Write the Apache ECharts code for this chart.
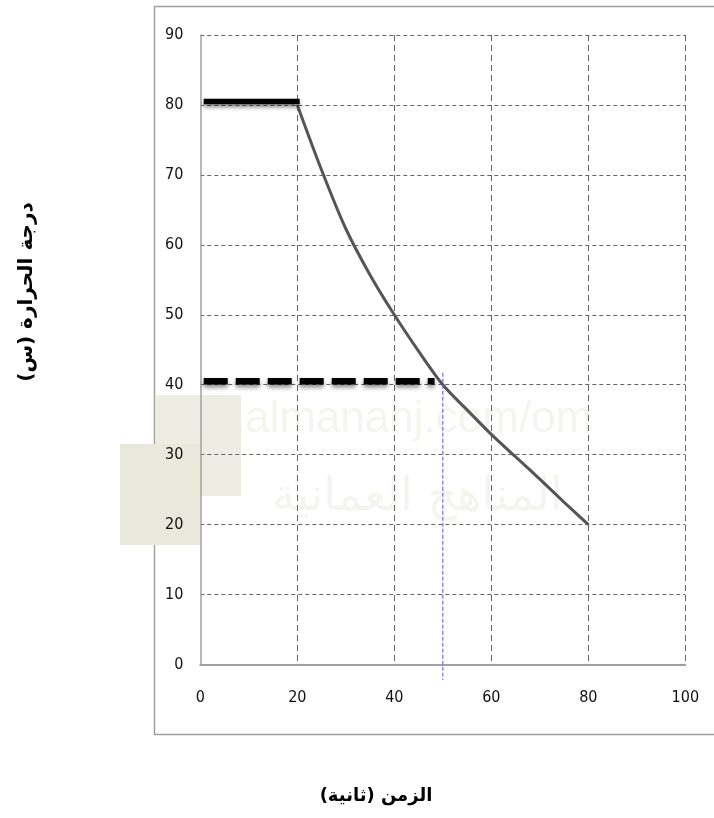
<!DOCTYPE html>
<html><head><meta charset="utf-8">
<script src="https://cdn.jsdelivr.net/npm/echarts@6/dist/echarts.min.js"></script>
<style>html,body{margin:0;padding:0;background:#fff}#c{width:714px;height:818px}</style>
</head><body><div id="c"></div>
<script>
const xTicks = [0, 20, 40, 60, 80, 100];
const yTicks = [0, 10, 20, 30, 40, 50, 60, 70, 80, 90];
const coolingX = [20, 25, 30, 35, 40, 45, 50, 55, 60, 65, 70, 75, 80];
const coolingY = [80, 70.7, 62.3, 55.7, 50, 44.8, 40, 36.4, 32.9, 29.7, 26.5, 23.2, 20];
const plateauHigh = [[0.7, 80.5], [20.5, 80.5]];
const plateauLow = [[0.7, 40.5], [48.3, 40.5]];
const markerLine = [[50, 41.7], [50, -2.2]];
const xTitle = 'الزمن (ثانية)';
const yTitle = 'درجة الحرارة (س)';

const chart = echarts.init(document.getElementById('c'), null, {renderer: 'canvas'});
const font = '"DejaVu Sans Condensed", "Liberation Sans Narrow", sans-serif';
const gridColors = n => xTicks.length && Array.from({length: n}, (_, i) => i === 0 ? 'rgba(0,0,0,0)' : '#666');
chart.setOption({
  animation: false,
  grid: {left: 200.3, right: 28.7, top: 35, bottom: 153.5},
  graphic: [
    {type: 'rect', z: -10, shape: {x: 154.5, y: 6.5, width: 570, height: 728}, style: {fill: '#fff', stroke: '#a0a0a0', lineWidth: 1.5}},
    {type: 'rect', z: -5, shape: {x: 120, y: 444, width: 80, height: 101}, style: {fill: '#e8e8dc'}},
    {type: 'rect', z: -5, shape: {x: 156, y: 395, width: 85, height: 101}, style: {fill: '#e8e8dc', opacity: 0.8}},
    {type: 'text', z: -4, left: 245, top: 398, style: {text: 'almanahj.com/om', font: '44px "Liberation Sans", sans-serif', fill: '#f5f5ef'}},
    {type: 'text', z: -4, left: 272, top: 475, style: {text: 'المناهج العمانية', font: '46px "DejaVu Sans", sans-serif', fill: '#f5f5ef'}},
    {type: 'text', x: 27, y: 292, rotation: Math.PI / 2, style: {text: yTitle, font: 'bold 20px "DejaVu Sans", sans-serif', fill: '#000', align: 'center', verticalAlign: 'middle'}},
    {type: 'text', x: 376, y: 796, style: {text: xTitle, font: 'bold 18px "DejaVu Sans", sans-serif', fill: '#000', align: 'center', verticalAlign: 'middle'}}
  ],
  xAxis: {
    type: 'value', min: 0, max: 100, interval: 20, z: 3,
    axisLine: {show: true, lineStyle: {color: '#a0a0a0', width: 2}},
    axisTick: {show: false},
    axisLabel: {margin: 25, color: '#111', fontSize: 16, fontFamily: font,
      formatter: v => xTicks.includes(v) ? String(v) : ''},
    splitLine: {show: true, lineStyle: {color: gridColors(xTicks.length), type: [6, 4], width: 1}}
  },
  yAxis: {
    type: 'value', min: 0, max: 90, interval: 10, z: 3,
    axisLine: {show: true, lineStyle: {color: '#a0a0a0', width: 1.5}},
    axisTick: {show: false},
    axisLabel: {margin: 17, color: '#111', fontSize: 16, fontFamily: font,
      formatter: v => yTicks.includes(v) ? String(v) : ''},
    splitLine: {show: true, lineStyle: {color: gridColors(yTicks.length), type: [4, 3], width: 1}}
  },
  series: [
    {type: 'line', data: coolingX.map((x, i) => [x, coolingY[i]]), smooth: 0.3, symbol: 'none',
      lineStyle: {color: '#555', width: 3}, z: 5},
    {type: 'line', data: plateauHigh, symbol: 'none', z: 6,
      lineStyle: {color: '#000', width: 5.5, cap: 'butt', shadowColor: 'rgba(0,0,0,0.45)', shadowBlur: 4, shadowOffsetY: 3}},
    {type: 'line', data: plateauLow, symbol: 'none', z: 6,
      lineStyle: {color: '#000', width: 6.5, cap: 'butt', type: [24, 8], shadowColor: 'rgba(0,0,0,0.45)', shadowBlur: 4, shadowOffsetY: 3}},
    {type: 'line', data: markerLine, symbol: 'none', clip: false, z: 7,
      lineStyle: {color: '#6a6aff', width: 1.2, type: [4, 2]}}
  ]
});
</script></body></html>
